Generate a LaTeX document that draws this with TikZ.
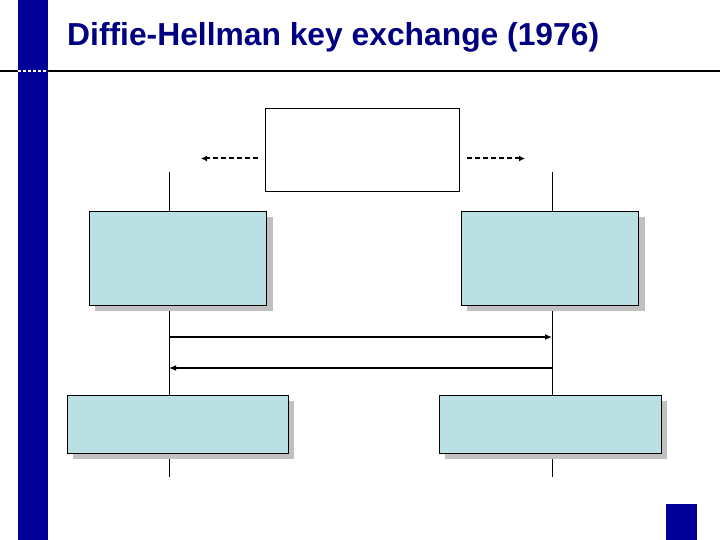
\documentclass[tikz,border=0pt]{standalone}
\usepackage{fontspec}
\setmainfont{Liberation Sans}
\usetikzlibrary{arrows.meta}
\definecolor{barblue}{RGB}{0,0,153}
\definecolor{titleblue}{RGB}{0,0,128}
\definecolor{boxfill}{RGB}{187,224,227}
\definecolor{shadowgray}{RGB}{192,192,192}
\tikzset{
  box/.style={draw=black, line width=1.3pt, fill=boxfill, inner sep=0pt, anchor=north west},
  shade/.style={fill=shadowgray, draw=none},
  lifeline/.style={line width=1pt, black},
  msg/.style={line width=2.2pt, black, -{Latex[length=7pt,width=6pt]}},
  dasharrow/.style={line width=2pt, black, dash pattern=on 5pt off 3pt, -{Latex[length=6pt,width=6pt]}}
}
\begin{document}
\begin{tikzpicture}[x=1pt,y=-1pt]
\useasboundingbox (0,0) rectangle (720,540);
\fill[white] (0,0) rectangle (720,540);
% left bar and corner square
\fill[barblue] (18,0) rectangle (48,540);
\fill[barblue] (666,504) rectangle (697,540);
% title
\node[anchor=base west, inner sep=0pt, text=titleblue, font=\bfseries\fontsize{31.8}{36}\selectfont] (title) at (67,46) {Diffie-Hellman key exchange (1976)};
% rule
\draw[line width=2pt] (0,71.5) -- (18,71.5);
\draw[line width=2pt] (48,71.5) -- (720,71.5);
\draw[line width=2pt, white, dash pattern=on 3pt off 2pt] (18,71.5) -- (48,71.5);
% lifelines
\coordinate (Ltop) at (169,172);
\coordinate (Lbot) at (169,477);
\coordinate (Rtop) at (552,172);
\coordinate (Rbot) at (552,477);
\draw[lifeline] (Ltop) -- (Lbot);
\draw[lifeline] (Rtop) -- (Rbot);
% top box
\node[box, fill=white, minimum width=194pt, minimum height=83pt] (pub) at (265,108) {};
\coordinate (dl) at (201,158.5);
\coordinate (dr) at (525,158.5);
\draw[dasharrow] (pub.west |- dl) ++(-7,0) -- (dl);
\draw[dasharrow] (pub.east |- dr) ++(7,0) -- (dr);
% shadows
\fill[shade] (95,217) rectangle (273,311);
\fill[shade] (467,217) rectangle (645,311);
\fill[shade] (73,401) rectangle (294,459);
\fill[shade] (445,401) rectangle (667,459);
% boxes
\node[box, minimum width=177pt, minimum height=94pt] (aliceA) at (89,211) {};
\node[box, minimum width=177pt, minimum height=94pt] (bobA) at (461,211) {};
\node[box, minimum width=221pt, minimum height=58pt] (aliceK) at (67,395) {};
\node[box, minimum width=222pt, minimum height=58pt] (bobK) at (439,395) {};
% messages
\coordinate (m1a) at (169,337);
\coordinate (m1b) at (552,337);
\coordinate (m2a) at (552,368);
\coordinate (m2b) at (169,368);
\draw[msg] (m1a) -- (m1b);
\draw[msg] (m2a) -- (m2b);
\end{tikzpicture}
\end{document}
